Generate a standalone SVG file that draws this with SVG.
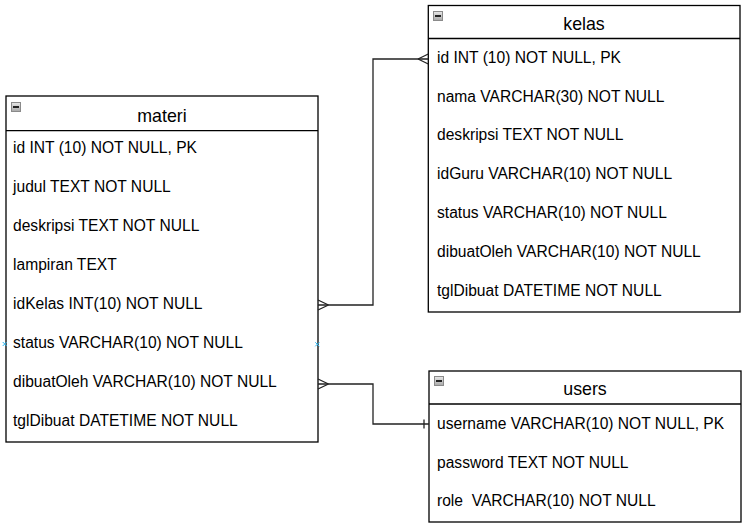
<svg xmlns="http://www.w3.org/2000/svg" xmlns:xlink="http://www.w3.org/1999/xlink" width="744" height="524" viewBox="0 0 744 524">
<style>
.box{fill:#fff;stroke:#000;stroke-width:1.3}
.sep{stroke:#000;stroke-width:1.3}
.title{font-family:"Liberation Sans",Arial,sans-serif;font-size:17.8px;fill:#000;text-anchor:middle}
.row{font-family:"Liberation Sans",Arial,sans-serif;font-size:15.6px;fill:#000;white-space:pre}
.edge{fill:none;stroke:#222;stroke-width:1.3}
.pt{fill:none;stroke:#29b6f2;stroke-width:1}
</style>
<defs>
<linearGradient id="ig" x1="0" y1="0" x2="0" y2="1">
<stop offset="0" stop-color="#e8e8e8"/>
<stop offset="1" stop-color="#a8a8a8"/>
</linearGradient>
<g id="icon">
<rect x="0.5" y="0.5" width="9" height="9" fill="url(#ig)" stroke="#8a8a8a" stroke-width="1"/>
<rect x="2" y="4" width="6" height="2" fill="#222"/>
</g>
</defs>

<g id="materi">
<rect class="box" x="6" y="96" width="312" height="346"/>
<line class="sep" x1="6" y1="130.7" x2="318" y2="130.7"/>
<use xlink:href="#icon" x="11" y="102"/>
<text class="title" x="162" y="122">materi</text>
<text class="row" x="13" y="152.5">id INT (10) NOT NULL, PK</text>
<text class="row" x="13" y="191.5">judul TEXT NOT NULL</text>
<text class="row" x="13" y="230.5">deskripsi TEXT NOT NULL</text>
<text class="row" x="13" y="269.5">lampiran TEXT</text>
<text class="row" x="13" y="308.5">idKelas INT(10) NOT NULL</text>
<text class="row" x="13" y="347.5">status VARCHAR(10) NOT NULL</text>
<text class="row" x="13" y="386.5">dibuatOleh VARCHAR(10) NOT NULL</text>
<text class="row" x="13" y="425.5">tglDibuat DATETIME NOT NULL</text>
</g>

<g id="kelas">
<rect class="box" x="428.3" y="5.5" width="311.7" height="306.5"/>
<line class="sep" x1="428.3" y1="38.5" x2="740" y2="38.5"/>
<use xlink:href="#icon" x="433" y="11"/>
<text class="title" x="584" y="29.5">kelas</text>
<text class="row" x="437" y="62.5">id INT (10) NOT NULL, PK</text>
<text class="row" x="437" y="101.5">nama VARCHAR(30) NOT NULL</text>
<text class="row" x="437" y="140">deskripsi TEXT NOT NULL</text>
<text class="row" x="437" y="179">idGuru VARCHAR(10) NOT NULL</text>
<text class="row" x="437" y="218">status VARCHAR(10) NOT NULL</text>
<text class="row" x="437" y="257">dibuatOleh VARCHAR(10) NOT NULL</text>
<text class="row" x="437" y="296">tglDibuat DATETIME NOT NULL</text>
</g>

<g id="users">
<rect class="box" x="429" y="371" width="312" height="151"/>
<line class="sep" x1="429" y1="404" x2="741" y2="404"/>
<use xlink:href="#icon" x="434" y="376"/>
<text class="title" x="585" y="395">users</text>
<text class="row" x="437" y="428.5">username VARCHAR(10) NOT NULL, PK</text>
<text class="row" x="437" y="467.5">password TEXT NOT NULL</text>
<text class="row" x="437" y="506" xml:space="preserve">role  VARCHAR(10) NOT NULL</text>
</g>

<g id="connectors">
<path class="edge" d="M318,305 H373 V59 H428.3"/>
<path class="edge" d="M328.5,305 L318,300 M328.5,305 L318,310"/>
<path class="edge" d="M418,59 L428.3,54 M418,59 L428.3,64"/>
<path class="edge" d="M318,384 H373 V424 H429"/>
<path class="edge" d="M328.5,384 L318,379 M328.5,384 L318,389"/>
<path class="edge" d="M424,419.5 V428.5"/>
<path class="pt" d="M315.3,342.3 l4,4 M319.3,342.3 l-4,4"/>
<path class="pt" d="M2.7,342 l4,4 M6.7,342 l-4,4"/>
</g>
</svg>
